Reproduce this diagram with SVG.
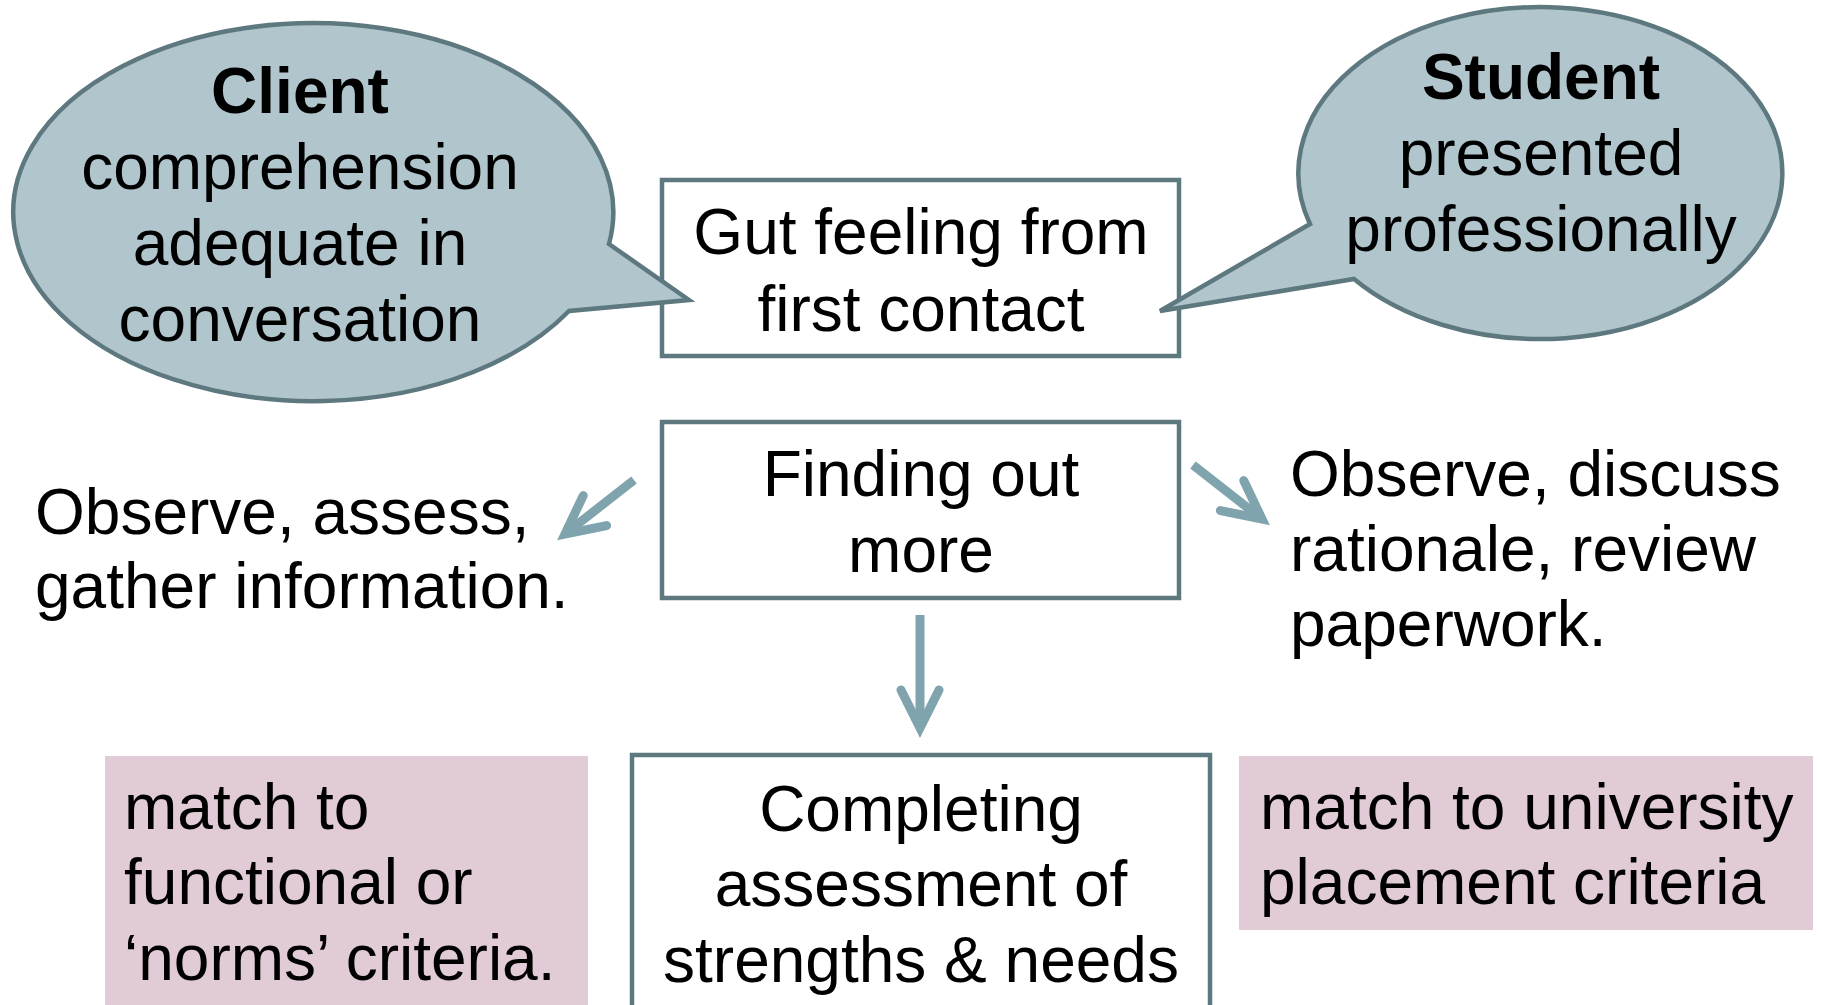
<svg xmlns="http://www.w3.org/2000/svg" width="1822" height="1005" viewBox="0 0 1822 1005">
<defs>
<style>
.t{font-family:"Liberation Sans",Arial,sans-serif;font-size:64px;fill:#000}
.c{text-anchor:middle}
.b{font-weight:bold}
.box{fill:#fff;stroke:#5e7880;stroke-width:4.5}
.bub{fill:#b0c5cc;stroke:#5e7880;stroke-width:4.5;stroke-linejoin:miter}
.pink{fill:#e0cbd6}
.arr{stroke:#80a4ae;stroke-width:9;fill:none;stroke-linecap:butt}
</style>
<marker id="ah" viewBox="-50 -25 65 50" refX="0" refY="0" markerWidth="65" markerHeight="50" orient="auto" markerUnits="userSpaceOnUse">
<path d="M-38,-19 L0,0 L-38,19" fill="none" stroke="#80a4ae" stroke-width="9" stroke-linecap="round" stroke-linejoin="miter" stroke-miterlimit="6"/>
</marker>
</defs>
<rect width="1822" height="1005" fill="#fff"/>

<g id="gut">
<rect class="box" x="662" y="180" width="517" height="176"/>
<text class="t c" x="921" y="254">Gut feeling from</text>
<text class="t c" x="921" y="331">first contact</text>
</g>

<g id="client">
<path class="bub" d="M609,244 L689,300 L569,311 A300 189 0 1 1 609,244 Z"/>
<text class="t c b" x="300" y="113">Client</text>
<text class="t c" x="300" y="189">comprehension</text>
<text class="t c" x="300" y="265">adequate in</text>
<text class="t c" x="300" y="341">conversation</text>
</g>

<g id="student">
<path class="bub" d="M1310,224 L1160,311 L1354,279 A242 166 0 1 0 1310,224 Z"/>
<text class="t c b" x="1541" y="99">Student</text>
<text class="t c" x="1541" y="175">presented</text>
<text class="t c" x="1541" y="251">professionally</text>
</g>

<g id="finding">
<rect class="box" x="662" y="422" width="517" height="176"/>
<text class="t c" x="921" y="496">Finding out</text>
<text class="t c" x="921" y="572">more</text>
</g>

<g id="observe-left">
<text class="t" x="35" y="534">Observe, assess,</text>
<text class="t" x="35" y="608">gather information.</text>
</g>

<g id="observe-right">
<text class="t" x="1290" y="496">Observe, discuss</text>
<text class="t" x="1290" y="571">rationale, review</text>
<text class="t" x="1290" y="646">paperwork.</text>
</g>

<g id="completing">
<rect class="box" x="632" y="755" width="578" height="270"/>
<text class="t c" x="921" y="831">Completing</text>
<text class="t c" x="921" y="906">assessment of</text>
<text class="t c" x="921" y="982">strengths &amp; needs</text>
</g>

<g id="norms">
<rect class="pink" x="105" y="756" width="483" height="260"/>
<text class="t" x="124" y="829">match to</text>
<text class="t" x="124" y="904">functional or</text>
<text class="t" x="124" y="980">‘norms’ criteria.</text>
</g>

<g id="university">
<rect class="pink" x="1239" y="756" width="574" height="174"/>
<text class="t" x="1260" y="829">match to university</text>
<text class="t" x="1260" y="904">placement criteria</text>
</g>

<g id="connectors">
<line class="arr" x1="634" y1="480" x2="565" y2="534" marker-end="url(#ah)"/>
<line class="arr" x1="1193" y1="465" x2="1262" y2="519" marker-end="url(#ah)"/>
<line class="arr" x1="920" y1="615" x2="920" y2="728" marker-end="url(#ah)"/>
</g>
</svg>
